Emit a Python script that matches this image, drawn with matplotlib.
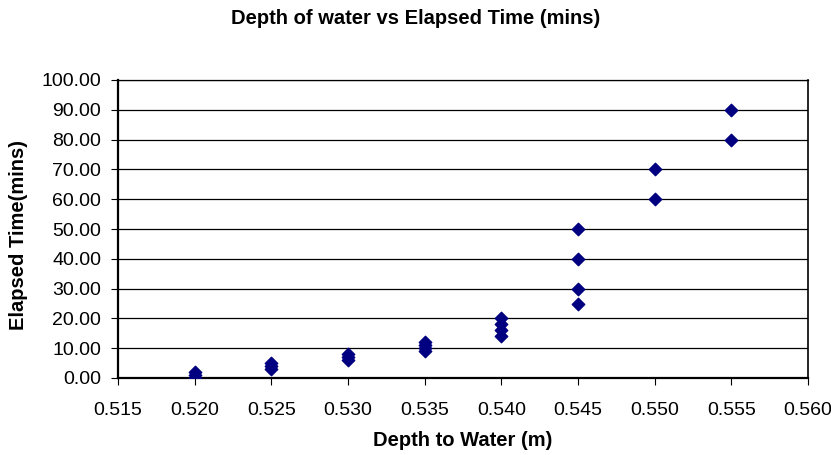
import matplotlib.pyplot as plt
from matplotlib.ticker import FormatStrFormatter, MultipleLocator

plt.rcParams["font.family"] = ["Liberation Sans", "DejaVu Sans"]

depth = [0.520, 0.520, 0.520,
         0.525, 0.525, 0.525,
         0.530, 0.530, 0.530,
         0.535, 0.535, 0.535, 0.535,
         0.540, 0.540, 0.540, 0.540,
         0.545, 0.545, 0.545, 0.545,
         0.550, 0.550,
         0.555, 0.555]
elapsed = [0, 1, 2,
           3, 4, 5,
           6, 7, 8,
           9, 10, 11, 12,
           14, 16, 18, 20,
           25, 30, 40, 50,
           60, 70,
           80, 90]

fig = plt.figure(figsize=(8.31, 4.55), dpi=100)
ax = fig.add_axes([118 / 831, 1 - 378 / 455, 690 / 831, 298 / 455])

ax.scatter(depth, elapsed, marker="D", s=40, color="#000080", zorder=3)

ax.set_xlim(0.515, 0.560)
ax.set_ylim(0, 100)
ax.xaxis.set_major_locator(MultipleLocator(0.005))
ax.yaxis.set_major_locator(MultipleLocator(10))
ax.xaxis.set_major_formatter(FormatStrFormatter("%.3f"))
ax.yaxis.set_major_formatter(FormatStrFormatter("%.2f"))
ax.yaxis.grid(True, color="black", linewidth=0.9)
ax.set_axisbelow(True)
ax.tick_params(labelsize=14, direction="out", length=5, color="black")
ax.tick_params(axis="x", pad=12)
ax.tick_params(axis="y", pad=7)
for side in ["left", "bottom", "right", "top"]:
    ax.spines[side].set_color("black")
ax.spines["bottom"].set_linewidth(1.6)
ax.spines["left"].set_linewidth(1.6)
ax.spines["right"].set_linewidth(1.2)
ax.spines["top"].set_linewidth(0.9)

ax.set_xlabel("Depth to Water (m)", fontsize=14.5, fontweight="bold", va="center")
ax.xaxis.set_label_coords(0.5, (378 - 440) / 298)
ax.set_ylabel("Elapsed Time(mins)", fontsize=14.5, fontweight="bold", va="center")
ax.yaxis.set_label_coords((18 - 118) / 690, 0.48)
fig.text(0.5, 1 - 18 / 455, "Depth of water vs Elapsed Time (mins)",
         fontsize=14.5, fontweight="bold", ha="center", va="center")

fig.savefig("out.png", dpi=100)
